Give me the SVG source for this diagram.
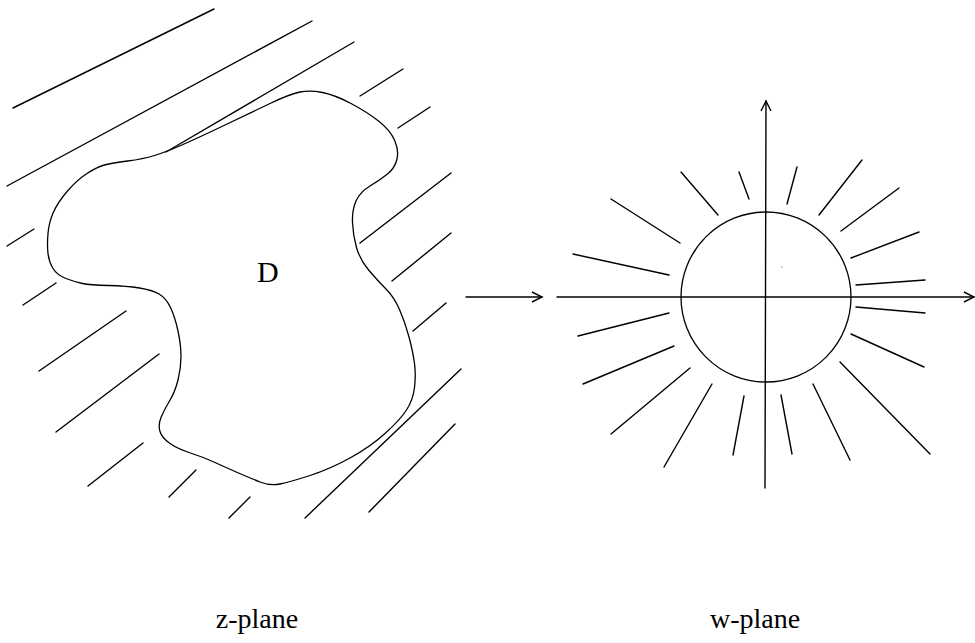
<svg xmlns="http://www.w3.org/2000/svg" width="975" height="643" viewBox="0 0 975 643">
<style>
.ln{stroke:#000;stroke-width:1.4;fill:none;stroke-linecap:round}
.bd{stroke:#000;stroke-width:1.3;fill:none;stroke-linejoin:round}
.lbl{font-family:"Liberation Serif","Times New Roman",serif;fill:#000}
</style>
<defs>
<marker id="ah" markerUnits="userSpaceOnUse" markerWidth="14" markerHeight="14" viewBox="-12 -7 14 14" refX="0" refY="0" orient="auto">
<path d="M-10,-5 L0,0 L-10,5" fill="none" stroke="#000" stroke-width="1.4"/>
</marker>
</defs>
<rect width="975" height="643" fill="#fff"/>
<g id="z-plane">
<g id="hatching" class="ln">
<line x1="13" y1="108" x2="214" y2="9"/>
<line x1="7" y1="186" x2="312" y2="21"/>
<line x1="166" y1="152" x2="354" y2="42"/>
<line x1="360" y1="96" x2="403" y2="69"/>
<line x1="398" y1="128" x2="430" y2="107"/>
<line x1="360" y1="243" x2="451" y2="173"/>
<line x1="392" y1="281" x2="451" y2="233"/>
<line x1="413" y1="331" x2="446" y2="303"/>
<line x1="305" y1="518" x2="461" y2="369"/>
<line x1="369" y1="512" x2="455" y2="424"/>
<line x1="7" y1="246" x2="34" y2="229"/>
<line x1="23" y1="305" x2="56" y2="283"/>
<line x1="39" y1="371" x2="126" y2="311"/>
<line x1="56" y1="432" x2="159" y2="354"/>
<line x1="88" y1="486" x2="143" y2="443"/>
<line x1="169" y1="497" x2="196" y2="470"/>
<line x1="229" y1="518" x2="250" y2="497"/>
</g>
<path id="domain-D" class="bd" d="M154.5,155.5 Q166,152 183,144.5 Q200,137 225,125 Q250,113 270,103.5 Q290,94 300,92 Q310,90 322.5,92.5 Q335,95 351,103.5 Q367,112 378.5,121 Q390,130 394.5,140 Q399,150 397,159 Q395,168 387.5,174 Q380,180 370,186 Q360,192 356,201 Q352,210 352.5,222.5 Q353,235 356.5,247.5 Q360,260 369,270.5 Q378,281 386,289 Q394,297 399.5,309.5 Q405,322 409,337 Q413,352 414.5,363.5 Q416,375 414.5,387.5 Q413,400 406.5,410 Q400,420 385,433.5 Q370,447 350,458 Q330,469 310,475.5 Q290,482 280,484 Q270,486 260,482 Q250,478 238.5,473 Q227,468 215,462.5 Q203,457 190.5,453 Q178,449 170,443.5 Q162,438 160,431.5 Q158,425 161,417.5 Q164,410 169.5,401 Q175,392 178,380 Q181,368 181,356.5 Q181,345 178,331 Q175,317 170.5,307.5 Q166,298 159,294 Q152,290 139.5,288 Q127,286 108.5,285.5 Q90,285 82.5,283.5 Q75,282 66,278.5 Q57,275 53,268.5 Q49,262 48,253.5 Q47,245 48,233.5 Q49,222 53.5,212 Q58,202 67.5,191 Q77,180 87,173.5 Q97,167 104.5,165 Q112,163 127.5,161 Q143,159 154.5,155.5 Z"/>
<text class="lbl" x="257" y="282" font-size="30">D</text>
<text class="lbl" x="257" y="628" font-size="28" text-anchor="middle">z-plane</text>
</g>
<g id="connectors">
<line class="ln" x1="466" y1="297" x2="542" y2="297" marker-end="url(#ah)"/>
</g>
<g id="w-plane">
<g id="axes" class="ln">
<line x1="557" y1="297" x2="974" y2="297" marker-end="url(#ah)"/>
<line x1="765" y1="488" x2="766" y2="101" marker-end="url(#ah)"/>
</g>
<circle id="unit-circle" class="bd" cx="766" cy="297" r="85"/>
<g id="rays" class="ln">
<line x1="573" y1="254" x2="669" y2="275"/>
<line x1="611" y1="199" x2="680" y2="243"/>
<line x1="681" y1="172" x2="718" y2="215"/>
<line x1="739" y1="172" x2="749" y2="199"/>
<line x1="797" y1="167" x2="787" y2="204"/>
<line x1="862" y1="160" x2="819" y2="215"/>
<line x1="899" y1="188" x2="841" y2="231"/>
<line x1="919" y1="232" x2="851" y2="258"/>
<line x1="925" y1="280" x2="856" y2="285"/>
<line x1="856" y1="307" x2="925" y2="313"/>
<line x1="851" y1="334" x2="924" y2="367"/>
<line x1="840" y1="362" x2="930" y2="454"/>
<line x1="813" y1="384" x2="850" y2="460"/>
<line x1="781" y1="395" x2="792" y2="454"/>
<line x1="744" y1="396" x2="733" y2="455"/>
<line x1="712" y1="384" x2="664" y2="467"/>
<line x1="690" y1="368" x2="611" y2="434"/>
<line x1="674" y1="346" x2="583" y2="384"/>
<line x1="669" y1="313" x2="578" y2="336"/>
</g>
<circle cx="782" cy="267" r="0.7" fill="#888"/>
<text class="lbl" x="755" y="628" font-size="28" text-anchor="middle">w-plane</text>
</g>
</svg>
